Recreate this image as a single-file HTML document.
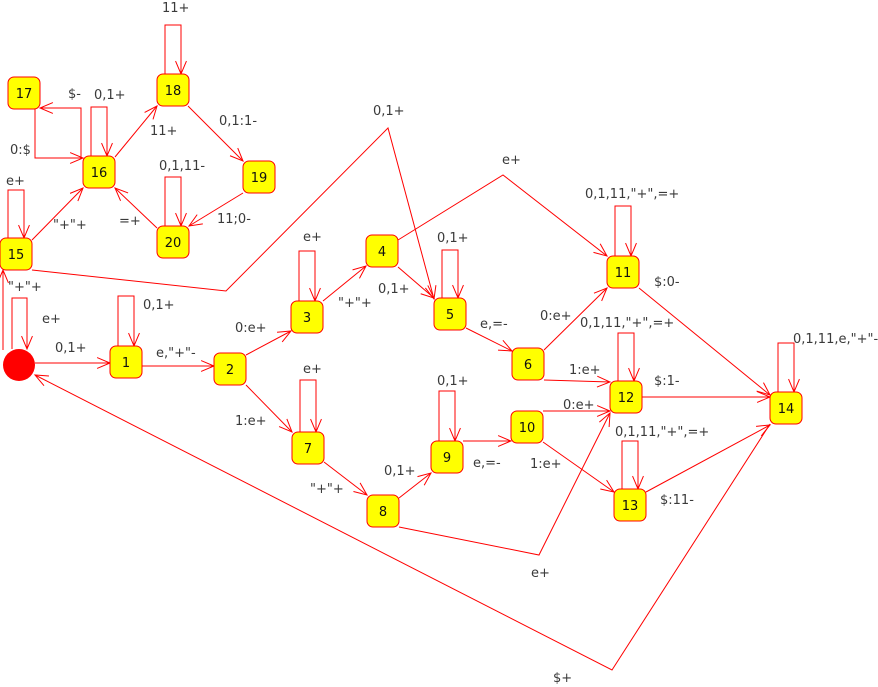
<!DOCTYPE html>
<html><head><meta charset="utf-8"><style>
html,body{margin:0;padding:0;background:#fff;width:878px;height:687px;overflow:hidden}
svg{display:block}
text{font-family:"DejaVu Sans","Liberation Sans",sans-serif;font-size:13px;fill:#3a3a3a}
.nl{fill:#111;text-anchor:middle}
</style></head><body>
<svg id="g" width="878" height="687"></svg>
<script>
const nodeIds=["17","18","16","19","20","15","1","2","3","4","5","6","7","8","9","10","11","12","13","14"];
const nodeX=[24,173,99,259,173,16,126,230,307,382,450,528,308,383,447,527,623,626,630,786];
const nodeY=[93,90,172,177,242,254,362,369,317,251,314,364,448,511,457,427,272,397,505,408];
const startX=19, startY=365;
const edgePts=[
 [[35,109],[35,158],[83,158]],
 [[81,157],[81,108],[40,108]],
 [[115,157],[157,106]],
 [[188,106],[243,161]],
 [[243,193],[189,226]],
 [[157,228],[115,188]],
 [[32,240],[83,188]],
 [[32,270],[226,291],[388,128],[434,299]],
 [[3,350],[3,270]],
 [[35,363],[110,363]],
 [[142,366],[214,366]],
 [[246,355],[291,331]],
 [[246,385],[292,432]],
 [[323,301],[366,266]],
 [[398,267],[434,298]],
 [[398,240],[503,175],[607,256]],
 [[466,328],[512,351]],
 [[544,350],[607,288]],
 [[544,380],[610,382]],
 [[324,462],[367,495]],
 [[399,498],[431,473]],
 [[463,441],[511,441]],
 [[543,411],[610,411]],
 [[543,442],[614,492]],
 [[399,527],[539,555],[610,413]],
 [[639,288],[770,395]],
 [[642,397],[770,397]],
 [[646,492],[770,425]],
 [[770,424],[612,670],[35,375]]
];
const edgeLabels=["0:$","$-","11+","0,1:1-","11;0-","=+","\"+\"+","0,1+","\"+\"+","0,1+","e,\"+\"-","0:e+","1:e+","\"+\"+","0,1+","e+","e,=-","0:e+","1:e+","\"+\"+","0,1+","e,=-","0:e+","1:e+","e+","$:0-","$:1-","$:11-","$+"];
const labelX=[10,68,150,219,217,119,53,373,8,55,156,235,235,338,378,502,480,540,569,310,384,473,563,530,531,654,654,660,553];
const labelY=[154,98,135,125,223,225,229,115,291,352,357,332,425,307,293,164,328,320,374,493,475,467,409,468,577,286,385,504,682];
const loopNode=[1,2,4,5,6,8,10,12,14,16,17,18,19];
const loopTop=[25,107,177,190,296,251,250,380,391,206,333,441,343];
const loopLabels=["11+","0,1+","0,1,11-","e+","0,1+","e+","0,1+","e+","0,1+","0,1,11,\"+\",=+","0,1,11,\"+\",=+","0,1,11,\"+\",=+","0,1,11,e,\"+\"-"];
const loopLX=[162,94,159,6,143,303,437,303,437,585,580,615,793];
const loopLY=[12,99,170,185,309,241,242,373,385,198,327,436,343];
const NS="http://www.w3.org/2000/svg";
const svg=document.getElementById('g');
function el(t,a){const e=document.createElementNS(NS,t);for(const k in a)e.setAttribute(k,a[k]);svg.appendChild(e);return e;}
function arrow(x1,y1,x2,y2){
 const a=Math.atan2(y2-y1,x2-x1),L=14,s=0.4;
 const p=[[x2-L*Math.cos(a-s),y2-L*Math.sin(a-s)],[x2,y2],[x2-L*Math.cos(a+s),y2-L*Math.sin(a+s)]];
 return el('polyline',{points:p.map(q=>q.join(',')).join(' '),fill:'none',stroke:'#f00','stroke-width':1});
}
edgePts.forEach((pts,i)=>{
 const l=el('polyline',{points:pts.map(q=>q.join(',')).join(' '),fill:'none',stroke:'#f00','stroke-width':1});
 
 
 const n=pts.length;const h=arrow(pts[n-2][0],pts[n-2][1],pts[n-1][0],pts[n-1][1]);
 
 
 const t=el('text',{x:labelX[i],y:labelY[i]});t.textContent=edgeLabels[i];
 
 
});
loopNode.forEach((ni,i)=>{
 const cx=nodeX[ni],top=nodeY[ni]-16;
 const l=el('polyline',{points:`${cx-8},${top} ${cx-8},${loopTop[i]} ${cx+8},${loopTop[i]} ${cx+8},${top}`,fill:'none',stroke:'#f00'});
 
 
 const h=arrow(cx+8,top-20,cx+8,top);
 
 
 const t=el('text',{x:loopLX[i],y:loopLY[i]});t.textContent=loopLabels[i];
 
 
});
{const l=el('polyline',{points:`12,349 12,298 27,298 27,349`,fill:'none',stroke:'#f00'});
 
 
 arrow(27,330,27,349);
 const t=el('text',{x:42,y:323});t.textContent="e+";
 
 }
const c=el('circle',{cx:startX,cy:startY,r:16,fill:'#f00'});


nodeIds.forEach((id,i)=>{
 const r=el('rect',{x:nodeX[i]-16,y:nodeY[i]-16,width:32,height:32,rx:6,fill:'#ff0',stroke:'#f00','stroke-width':1});
 
 
 const t=el('text',{x:nodeX[i],y:nodeY[i]+5,class:'nl'});t.textContent=id;
 
 
});
</script>
</body></html>
